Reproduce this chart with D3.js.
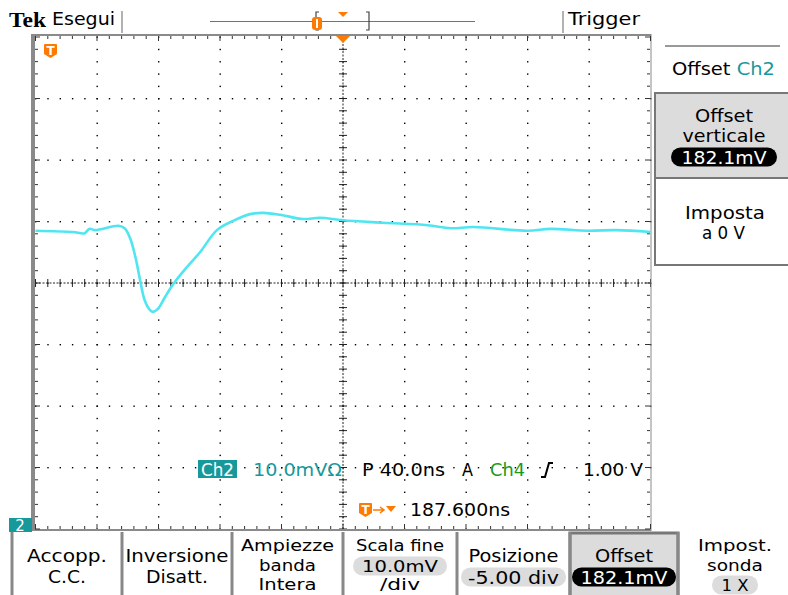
<!DOCTYPE html>
<html>
  <head>
    <title>Tek Ch2</title>
    <script src="https://d3js.org/d3.v7.min.js"></script>
    <style>
      body { margin: 0; background: #fff; }
      text { font-family: "DejaVu Sans", sans-serif; }
    </style>
  </head>
  <body>
    <svg width="788" height="595"></svg>

    <script type="text/javascript">
      // waveform: time from left edge (ns), level from centre line (mV)
      var times = [0, 24, 32, 35, 39, 54, 58, 61.5, 65, 68, 71, 74.5, 76.5, 80, 84, 89.5, 98.5,
        107, 118, 128.5, 139.5, 148, 159, 174, 185, 200, 226, 255, 270, 285, 320, 335, 359, 378, 400];
      var levels = [8.5, 8.3, 8.1, 8.8, 8.6, 9.3, 8.9, 7.3, 4.2, 0.5, -2.8, -4.4, -4.7, -4.1, -2.4, -0.2, 2.6,
        5.0, 8.6, 10.1, 11.2, 11.4, 11.1, 10.4, 10.6, 10.2, 9.8, 9.4, 8.9, 9.1, 8.5, 8.8, 8.5, 8.6, 8.3];

      var menuLabels = [
        ["Accopp.", "C.C."],
        ["Inversione", "Disatt."],
        ["Ampiezze", "banda", "Intera"],
        ["Scala fine", "10.0mV", "/div"],
        ["Posizione", "-5.00 div"],
        ["Offset", "182.1mV"],
        ["Impost.", "sonda", "1 X"]
      ];
      var menuWidths = [
        [80, 38], [103, 62], [93, 57, 58], [88, 76, 40], [90, 91], [58, 87], [74, 56, 27]
      ];

      var svg = d3.select("svg");
      var teal = "#17999b";
      var orange = "#ff7a00";

      var xScale = d3.scaleLinear().domain([0, 400]).range([35.5, 650.5]);
      var yScale = d3.scaleLinear().domain([-40, 40]).range([529, 37]);

      // graticule dots
      var grid = svg.append("g").attr("fill", "#000");
      var xMinor = d3.range(0, 401, 8);
      var yMinor = d3.range(-40, 41, 2);
      d3.range(40, 400, 40).forEach(function (t) {
        yMinor.forEach(function (v) {
          grid.append("rect").attr("x", xScale(t) - 0.5).attr("y", yScale(v) - 0.5)
            .attr("width", 1.4).attr("height", 1.4);
        });
      });
      d3.range(-30, 40, 10).forEach(function (v) {
        xMinor.forEach(function (t) {
          grid.append("rect").attr("x", xScale(t) - 0.5).attr("y", yScale(v) - 0.5)
            .attr("width", 1.4).attr("height", 1.4);
        });
      });

      // centre cross with tick marks
      var cross = svg.append("g").attr("stroke", "#222").attr("stroke-width", 1);
      cross.append("line").attr("x1", xScale(0)).attr("x2", xScale(400))
        .attr("y1", yScale(0)).attr("y2", yScale(0)).attr("stroke-dasharray", "2,1.5");
      cross.append("line").attr("y1", yScale(40)).attr("y2", yScale(-40))
        .attr("x1", xScale(200)).attr("x2", xScale(200)).attr("stroke-dasharray", "2,1.5");
      xMinor.forEach(function (t) {
        cross.append("line").attr("x1", xScale(t)).attr("x2", xScale(t))
          .attr("y1", yScale(0) - 4).attr("y2", yScale(0) + 4);
      });
      yMinor.forEach(function (v) {
        cross.append("line").attr("y1", yScale(v)).attr("y2", yScale(v))
          .attr("x1", xScale(200) - 4).attr("x2", xScale(200) + 4);
      });

      // frame edges with ticks
      var frame = svg.append("g");
      frame.append("line").attr("x1", 33).attr("x2", 33).attr("y1", 34).attr("y2", 531)
        .attr("stroke-width", 4).attr("stroke", "#8a8a8a");
      frame.append("line").attr("x1", 33).attr("x2", 651).attr("y1", 35).attr("y2", 35)
        .attr("stroke-width", 2).attr("stroke", "#8a8a8a");
      frame.append("line").attr("x1", 33).attr("x2", 651).attr("y1", 530).attr("y2", 530)
        .attr("stroke-width", 2).attr("stroke", "#8a8a8a");
      frame.append("line").attr("x1", 651).attr("x2", 651).attr("y1", 34).attr("y2", 531)
        .attr("stroke-width", 1).attr("stroke", "#8a8a8a");
      xMinor.forEach(function (t) {
        var len = t % 40 === 0 ? 5 : 3;
        frame.append("line").attr("x1", xScale(t)).attr("x2", xScale(t))
          .attr("y1", 36).attr("y2", 36 + len).attr("stroke", "#333");
        frame.append("line").attr("x1", xScale(t)).attr("x2", xScale(t))
          .attr("y1", 529 - len).attr("y2", 529).attr("stroke", "#333");
      });
      yMinor.forEach(function (v) {
        var len = v % 10 === 0 ? 5 : 3;
        frame.append("line").attr("y1", yScale(v)).attr("y2", yScale(v))
          .attr("x1", 35).attr("x2", 35 + len).attr("stroke", "#333");
        frame.append("line").attr("y1", yScale(v)).attr("y2", yScale(v))
          .attr("x1", 650 - len).attr("x2", 650).attr("stroke", "#333");
      });

      // waveform
      var wave = d3.line()
        .x(function (d, i) { return xScale(times[i]); })
        .y(function (d, i) { return yScale(levels[i]); })
        .curve(d3.curveCatmullRom.alpha(0.5));
      svg.append("path")
        .attr("d", wave(times))
        .attr("fill", "none")
        .attr("stroke", "#4fe6f2")
        .attr("stroke-width", 2.6)
        .attr("stroke-linejoin", "round");

      // trigger markers
      function tMarker(x, y) {
        var g = svg.append("g").attr("transform", "translate(" + x + "," + y + ")");
        g.append("path").attr("d", "M1,0 H12 Q13,0 13,1 V10 L6.5,14 L0,10 V1 Q0,0 1,0 Z").attr("fill", orange);
        g.append("text").attr("x", 6.5).attr("y", 11).attr("text-anchor", "middle")
          .attr("fill", "#fff").style("font-size", "12px").style("font-weight", "bold").text("T");
      }
      tMarker(44, 44);
      svg.append("path").attr("d", "M336,36 H350 L343,43 Z").attr("fill", orange);

      function label(x, y, s, opts) {
        opts = opts || {};
        var t = svg.append("text").attr("x", x).attr("y", y).attr("text-anchor", opts.anchor || "middle")
          .attr("dominant-baseline", "central").attr("fill", opts.fill || "#000")
          .style("font-size", (opts.size || 17) + "px")
          .text(s);
        if (opts.w) t.attr("textLength", opts.w).attr("lengthAdjust", "spacingAndGlyphs");
        return t;
      }
      function pill(cx, cy, w, s, tw, dark, size) {
        svg.append("rect").attr("x", cx - w / 2).attr("y", cy - 9.5).attr("width", w).attr("height", 19)
          .attr("rx", 9.5).attr("fill", dark ? "#000" : "#dcdcdc");
        label(cx, cy + 1, s, { fill: dark ? "#fff" : "#000", w: tw, size: size });
      }

      // top bar
      svg.append("text").attr("x", 9).attr("y", 27).style("font-family", "Liberation Serif")
        .style("font-weight", "bold").style("font-size", "22px")
        .attr("textLength", 37).attr("lengthAdjust", "spacingAndGlyphs").text("Tek");
      label(52, 19, "Esegui", { anchor: "start", w: 63 });
      svg.append("line").attr("x1", 122).attr("x2", 122).attr("y1", 11).attr("y2", 33)
        .attr("stroke", "#999").attr("stroke-width", 1.5);
      svg.append("line").attr("x1", 210).attr("x2", 475).attr("y1", 21.5).attr("y2", 21.5)
        .attr("stroke", teal).attr("stroke-width", 1.2);
      svg.append("path").attr("d", "M319,12 H316 V30 H319 M366,12 H369 V30 H366")
        .attr("fill", "none").attr("stroke", "#444").attr("stroke-width", 1.2);
      svg.append("rect").attr("x", 312).attr("y", 17).attr("width", 10).attr("height", 13)
        .attr("rx", 3).attr("fill", orange);
      svg.append("rect").attr("x", 316).attr("y", 19).attr("width", 2).attr("height", 9).attr("fill", "#fff");
      svg.append("path").attr("d", "M338,12 H348 L343,17 Z").attr("fill", orange);
      svg.append("line").attr("x1", 563).attr("x2", 563).attr("y1", 11).attr("y2", 33)
        .attr("stroke", "#999").attr("stroke-width", 1.5);
      label(568, 19, "Trigger", { anchor: "start", w: 72 });

      // side menu
      svg.append("line").attr("x1", 665).attr("x2", 780).attr("y1", 46).attr("y2", 46)
        .attr("stroke", "#999").attr("stroke-width", 2);
      var side = svg.append("text").attr("x", 723.5).attr("y", 69).attr("text-anchor", "middle")
        .attr("dominant-baseline", "central").style("font-size", "17px")
        .attr("textLength", 103).attr("lengthAdjust", "spacingAndGlyphs");
      side.append("tspan").text("Offset ");
      side.append("tspan").attr("fill", teal).text("Ch2");
      svg.append("rect").attr("x", 655).attr("y", 93).attr("width", 140).attr("height", 85)
        .attr("fill", "#dcdcdc").attr("stroke", "#777").attr("stroke-width", 2);
      svg.append("rect").attr("x", 655).attr("y", 178).attr("width", 140).attr("height", 87)
        .attr("fill", "#fff").attr("stroke", "#777").attr("stroke-width", 2);
      label(724, 116, "Offset", { w: 58 });
      label(724, 136, "verticale", { w: 83 });
      pill(724, 157, 106, "182.1mV", 85, true);
      label(725, 213, "Imposta", { w: 80 });
      label(723.5, 233, "a 0 V", { w: 43 });

      // bottom readout
      svg.append("rect").attr("x", 198).attr("y", 460).attr("width", 39).attr("height", 18).attr("fill", teal);
      label(217.5, 470, "Ch2", { fill: "#fff", w: 33 });
      label(253, 470, "10.0mVΩ", { fill: teal, anchor: "start", w: 89 });
      label(362, 470, "P 40.0ns", { anchor: "start", w: 83 });
      label(462, 470, "A", { anchor: "start", w: 11 });
      label(490, 470, "Ch4", { fill: "#1a9a1a", anchor: "start", w: 35 });
      svg.append("path").attr("d", "M541,477 H545 L549,463 H553").attr("fill", "none")
        .attr("stroke", "#000").attr("stroke-width", 2);
      label(583, 470, "1.00 V", { anchor: "start", w: 60 });

      tMarker(359, 503);
      svg.append("path").attr("d", "M373,510 H383 M380,507 L384,510 L380,513").attr("fill", "none")
        .attr("stroke", orange).attr("stroke-width", 1.5);
      svg.append("path").attr("d", "M386,506 H396 L391,512 Z").attr("fill", orange);
      label(410, 510, "187.600ns", { anchor: "start", w: 100 });

      svg.append("rect").attr("x", 9).attr("y", 518).attr("width", 23).attr("height", 14).attr("fill", teal);
      label(20, 526, "2", { fill: "#fff", size: 15 });

      // bottom menu buttons
      var edges = [12, 122, 232, 343, 457, 570, 678, 790];
      svg.append("rect").attr("x", 570).attr("y", 533).attr("width", 108).attr("height", 70)
        .attr("fill", "#dcdcdc").attr("stroke", "#777").attr("stroke-width", 3);
      edges.slice(0, 7).forEach(function (x) {
        svg.append("line").attr("x1", x).attr("x2", x).attr("y1", 532).attr("y2", 595)
          .attr("stroke", "#888").attr("stroke-width", 3);
      });
      menuLabels.forEach(function (lines, i) {
        var cx = (edges[i] + edges[i + 1]) / 2;
        if (i === 6) cx = 735;
        var three = lines.length === 3;
        var ys = three ? [546, 566, 585] : [556, 577];
        var size = three ? 15.5 : 17;
        lines.forEach(function (s, j) {
          var isPill = (i === 3 && j === 1) || (i === 4 && j === 1) || (i === 6 && j === 2) || (i === 5 && j === 1);
          if (isPill) {
            var w = i === 6 ? 46 : i === 3 ? 94 : i === 5 ? 104 : 105;
            pill(cx, ys[j], w, s, menuWidths[i][j], i === 5, size);
          } else {
            label(cx, ys[j], s, { w: menuWidths[i][j], size: size });
          }
        });
      });
    </script>
  </body>
</html>
